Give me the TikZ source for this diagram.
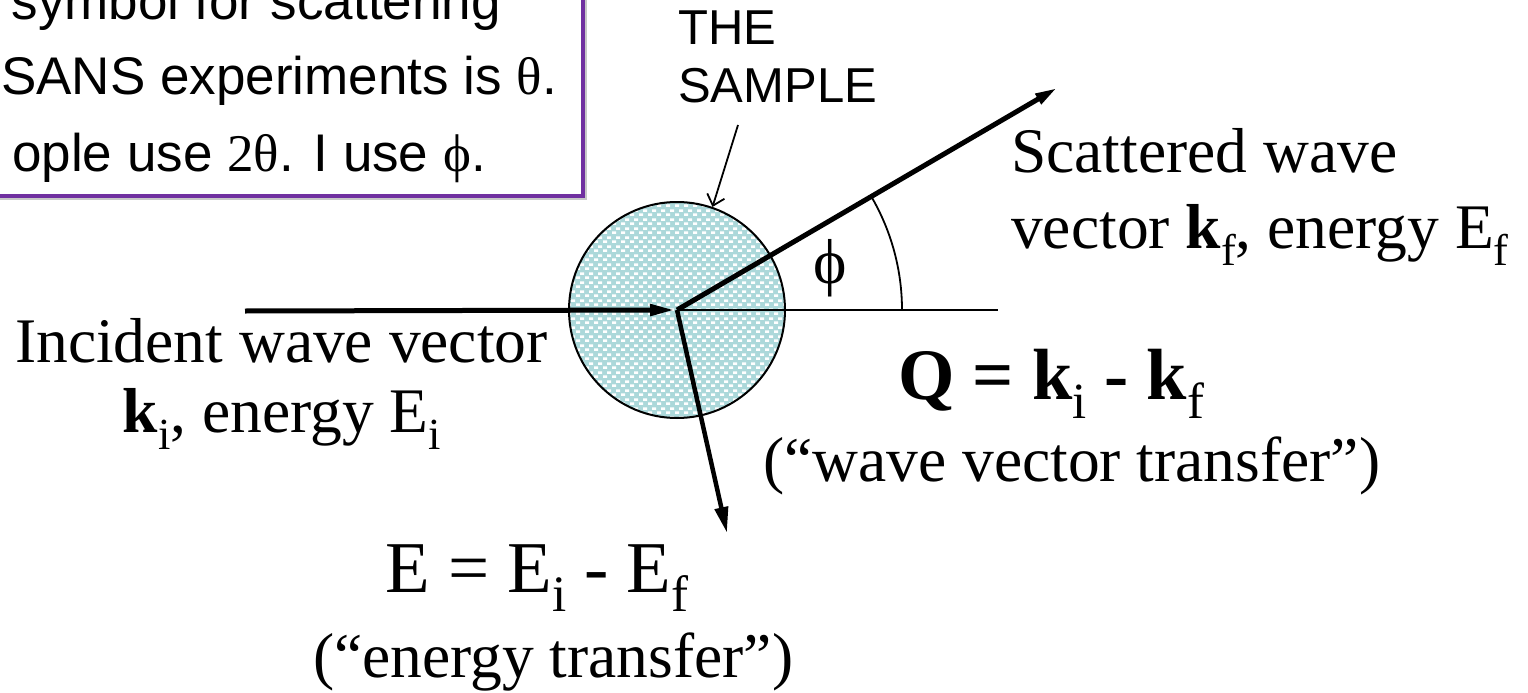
\documentclass[tikz,border=0pt]{standalone}
\usepackage{fontspec}
\usepackage{graphicx}
\setmainfont{Liberation Serif}
\newfontfamily\arialfont{Liberation Sans}
\usetikzlibrary{arrows.meta, positioning, calc, patterns.meta}
\definecolor{boxpurple}{HTML}{7030A0}
\definecolor{sampleteal}{HTML}{ACD8DA}
\definecolor{shadowgray}{HTML}{C8C8C8}
\newcommand{\lowidx}[1]{\raisebox{-0.27em}{\scalebox{0.7}{\mdseries #1}}}
\newcommand{\phisym}{{\rmfamily ϕ}}
\tikzdeclarepattern{
  name=samplechecks, type=uncolored,
  bottom left={(0pt,0pt)}, top right={(9pt,9pt)}, tile size={(9pt,9pt)},
  code={
    \pgfpathrectangle{\pgfpoint{0pt}{0pt}}{\pgfpoint{4.5pt}{2.8pt}}
    \pgfpathrectangle{\pgfpoint{4.5pt}{4.5pt}}{\pgfpoint{4.5pt}{2.8pt}}
    \pgfusepath{fill}
  }
}
\tikzset{
  txt/.style={inner sep=0pt, font=\fontsize{63.5}{70}\selectfont},
  qtxt/.style={inner sep=0pt, font=\fontsize{72.5}{80}\selectfont\bfseries},
  etxt/.style={inner sep=0pt, font=\fontsize{73}{80}\selectfont},
  note/.style={inner sep=0pt, font=\arialfont\fontsize{53}{60}\selectfont},
  tag/.style={inner sep=0pt, font=\arialfont\fontsize{49}{57}\selectfont},
  notebox/.style={draw=boxpurple, line width=4.5pt, fill=white},
  sample/.style={circle, draw, line width=2pt, preaction={fill=sampleteal},
                 pattern=samplechecks, pattern color=white,
                 minimum size=216pt, inner sep=0pt},
  beamin/.style={line width=5pt, -{Triangle[length=25pt,width=11pt]}},
  beamout/.style={line width=5pt, -{Triangle[length=22pt,width=11pt]}},
  transfer/.style={line width=4.5pt, -{Triangle[length=26pt,width=13pt]}},
  guide/.style={line width=1.8pt},
  pointer/.style={line width=1.8pt, -{Straight Barb[length=10pt,width=18pt]}},
}

\begin{document}
\begin{tikzpicture}[x=1pt, y=-1pt]
  \useasboundingbox (0,0) rectangle (1528,693);
  \clip (0,0) rectangle (1528,693);

  % note box, cut off at the top left
  \draw[line width=2pt, shadowgray] (-40,-40) rectangle (586,199);
  \draw[notebox] (-40,-40) rectangle (583,196);
  \node[note, anchor=base east] (note1) at (501,20) {symbol for scattering};
  \node[note, anchor=base east] (note2) at (557,94)
    {SANS experiments is {\rmfamily θ}.};
  \node[note, anchor=base east] (note3) at (486,171)
    {ople use {\rmfamily 2θ}. I use \phisym.};

  % sample and beams
  \node[sample] (sample) at (677,310) {};
  \node[tag, anchor=base west] (tagthe) at (678,45) {THE};
  \node[tag, anchor=base west] (tagsample) at (678,102) {SAMPLE};

  \coordinate (ptr) at (738,125);
  \coordinate (kin) at (245,311);
  \coordinate (kout) at (1057,88);
  \coordinate (kq) at (727,533);
  \coordinate (axisend) at (998,310);

  \draw[pointer] (ptr) -- (sample.71);
  \draw[guide] (sample.center) -- (axisend);
  \draw[guide] ($(sample.center)+(225,0)$) arc[start angle=0, end angle=30, radius=225pt];
  \draw[beamin, shorten >=2pt] (kin) -- (sample.center);
  \draw[beamout] (sample.center) -- (kout);
  \draw[transfer] (sample.center) -- (kq);

  \node[txt, anchor=base] (phi) at (830,283) {\phisym};

  % labels
  \node[txt, anchor=base west] (inc1) at (15,362) {Incident wave vector};
  \node[txt, anchor=base] (inc2) at (282,432)
    {\textbf{k}\lowidx{i}, energy E\lowidx{i}};
  \node[txt, anchor=base west] (sca1) at (1011,172) {Scattered wave};
  \node[txt, anchor=base west] (sca2) at (1011,248)
    {vector \textbf{k}\lowidx{f}, energy E\lowidx{f}};
  \node[qtxt, anchor=base west] (qeq) at (898,399)
    {Q = k\lowidx{i} - k\lowidx{f}};
  \node[txt, anchor=base west] (qnote) at (763,481) {(“wave vector transfer”)};
  \node[etxt, anchor=base west] (eeq) at (385,592)
    {E = E\lowidx{i} - E\lowidx{f}};
  \node[txt, anchor=base west] (enote) at (313,677) {(“energy transfer”)};
\end{tikzpicture}
\end{document}
